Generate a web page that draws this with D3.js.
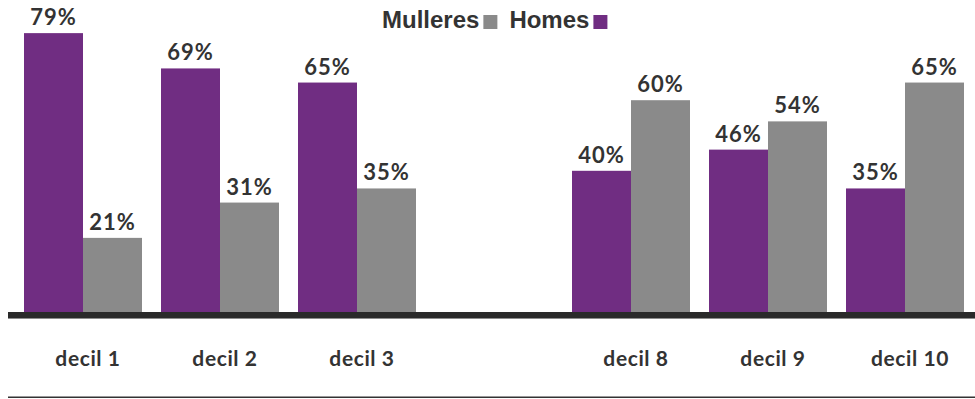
<!DOCTYPE html>
<html>
<head>
<meta charset="utf-8">
<script src="https://cdn.jsdelivr.net/npm/d3@7"></script>
<style>
  html, body { margin: 0; padding: 0; background: #fff; }
  svg { display: block; }
</style>
</head>
<body>
<svg id="chart" width="975" height="399"></svg>
<script>
// Share of each income decile (%), men vs women; one empty slot separates the low and high deciles
const slots = ["decil 1", "decil 2", "decil 3", "", "decil 8", "decil 9", "decil 10"];
const categories = ["decil 1", "decil 2", "decil 3", "decil 8", "decil 9", "decil 10"];
const homes    = [79, 69, 65, 40, 46, 35];
const mulleres = [21, 31, 35, 60, 54, 65];
const seriesNames = ["Homes", "Mulleres"];
const legendOrder = ["Mulleres", "Homes"];

const colors = { Homes: "#702d82", Mulleres: "#8a8a8a" };
const textColor = "#333333";

const svg = d3.select("#chart");
const W = 975, H = 399;
const baseY = 312;

const x = d3.scaleBand()
  .domain(slots)
  .range([24, 964])
  .paddingInner(19 / 137)
  .paddingOuter(0);

const xs = d3.scaleBand()
  .domain(seriesNames)
  .range([0, x.bandwidth()])
  .padding(0);

const y = d3.scaleLinear()
  .domain([0, 100])
  .range([baseY, baseY - 353]);

const rows = categories.map((c, i) => ({
  cat: c,
  values: [
    { key: "Homes", value: homes[i] },
    { key: "Mulleres", value: mulleres[i] }
  ]
}));

const groups = svg.append("g").selectAll("g")
  .data(rows)
  .join("g")
  .attr("transform", d => `translate(${x(d.cat)},0)`);

groups.selectAll("rect")
  .data(d => d.values)
  .join("rect")
  .attr("x", d => xs(d.key))
  .attr("y", d => y(d.value))
  .attr("width", xs.bandwidth())
  .attr("height", d => y(0) - y(d.value))
  .attr("fill", d => colors[d.key]);

groups.selectAll("text")
  .data(d => d.values)
  .join("text")
  .attr("x", d => xs(d.key) + xs.bandwidth() / 2)
  .attr("y", d => y(d.value) - 8)
  .attr("text-anchor", "middle")
  .attr("font-family", "Lato, sans-serif")
  .attr("font-weight", 700)
  .attr("font-size", 22)
  .attr("letter-spacing", 1)
  .attr("fill", textColor)
  .text(d => d.value + "%");

// Heavy baseline with a soft grey edge beneath it
svg.append("rect")
  .attr("x", 8).attr("y", baseY)
  .attr("width", W - 8).attr("height", 6)
  .attr("fill", "#2a2a2a");
svg.append("rect")
  .attr("x", 8).attr("y", baseY + 6)
  .attr("width", W - 8).attr("height", 1)
  .attr("fill", "#8c8c8c");

// Category labels
const axis = d3.axisBottom(x)
  .tickValues(categories)
  .tickSize(0)
  .tickPadding(0);

const axisG = svg.append("g")
  .attr("transform", `translate(5,${baseY + 54})`)
  .call(axis);
axisG.select(".domain").remove();
axisG.selectAll("text")
  .attr("dy", 0)
  .attr("font-family", "Lato, sans-serif")
  .attr("font-weight", 700)
  .attr("font-size", 21)
  .attr("letter-spacing", 0.6)
  .attr("fill", textColor);

// Bottom rule
svg.append("rect")
  .attr("x", 8).attr("y", 396.5)
  .attr("width", W - 8).attr("height", 1.5)
  .attr("fill", "#333");

// Legend: label followed by its swatch
const legend = svg.append("g");
let lx = 382;
legendOrder.forEach(name => {
  const t = legend.append("text")
    .attr("x", lx)
    .attr("y", 28)
    .attr("font-family", "'Liberation Sans', Arial, sans-serif")
    .attr("font-weight", 700)
    .attr("font-size", 24)
    .attr("fill", textColor)
    .text(name);
  const w = t.node().getComputedTextLength();
  legend.append("rect")
    .attr("x", lx + w + 4)
    .attr("y", 15)
    .attr("width", 14)
    .attr("height", 14)
    .attr("fill", colors[name]);
  lx += w + 4 + 14 + 12;
});
</script>
</body>
</html>
